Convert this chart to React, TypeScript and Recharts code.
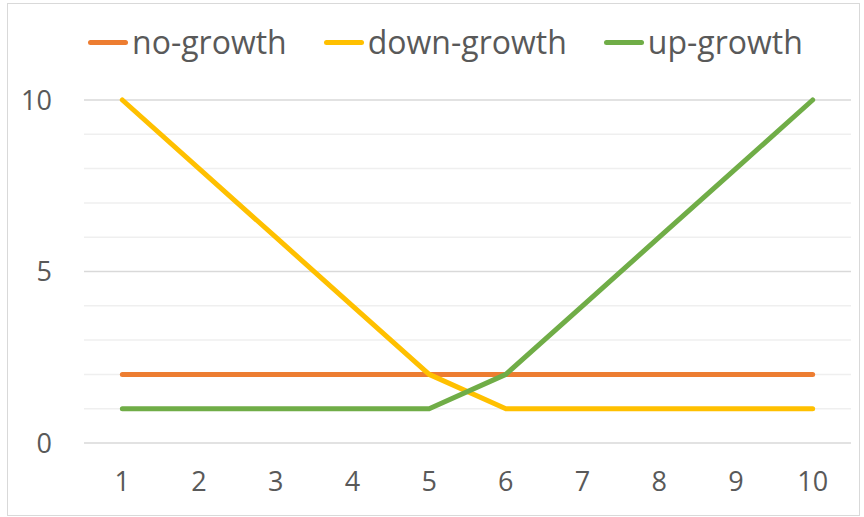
import React from 'react';
import {
  LineChart,
  Line,
  XAxis,
  YAxis,
  CartesianGrid,
  Legend,
  ReferenceLine,
} from 'recharts';

const periods = [1, 2, 3, 4, 5, 6, 7, 8, 9, 10];
const noGrowth = [2, 2, 2, 2, 2, 2, 2, 2, 2, 2];
const downGrowth = [10, 8, 6, 4, 2, 1, 1, 1, 1, 1];
const upGrowth = [1, 1, 1, 1, 1, 2, 4, 6, 8, 10];
const yTicks = [0, 5, 10];
const minorLines = [1, 2, 3, 4, 6, 7, 8, 9];
const seriesOrder = ['no-growth', 'down-growth', 'up-growth'];

const data = periods.map((p, i) => ({
  period: p,
  'no-growth': noGrowth[i],
  'down-growth': downGrowth[i],
  'up-growth': upGrowth[i],
}));

const FONT = '"Open Sans", "Liberation Sans", sans-serif';
const TEXT = '#595959';

const renderLegend = (props: any) => {
  const payload = [...(props.payload || [])].sort(
    (a: any, b: any) => seriesOrder.indexOf(a.value) - seriesOrder.indexOf(b.value)
  );
  return (
    <div style={{ display: 'flex', alignItems: 'center', height: 40, lineHeight: '40px', fontFamily: FONT, fontSize: 32, color: TEXT }}>
      {payload.map((entry: any, i: number) => (
        <div key={`item-${i}`} style={{ display: 'flex', alignItems: 'center', marginRight: 37 }}>
          <span style={{ display: 'inline-block', width: 40, height: 5, borderRadius: 3, background: entry.color, marginRight: 4 }} />
          <span>{entry.value}</span>
        </div>
      ))}
    </div>
  );
};

export default function App() {
  return (
    <div style={{ position: 'absolute', left: 0, top: 0, width: 864, height: 517, background: '#fff' }}>
      <div style={{ position: 'absolute', left: 7, top: 3, width: 851, height: 511, border: '1px solid #d9d9d9' }} />
      <div style={{ position: 'absolute', left: 0, top: 0 }}>
        <LineChart width={864} height={517} data={data} margin={{ top: 60, right: 13, bottom: 24, left: 24 }}>
          <CartesianGrid vertical={false} stroke="#d9d9d9" strokeWidth={1.5} />
          {minorLines.map((v) => (
            <ReferenceLine key={v} y={v} stroke="#efefef" strokeWidth={1.5} ifOverflow="visible" />
          ))}
          <XAxis
            dataKey="period"
            scale="band"
            height={50}
            axisLine={false}
            tickLine={false}
            tickSize={0}
            tickMargin={29}
            tick={{ fill: TEXT, fontSize: 27, fontFamily: FONT }}
          />
          <YAxis
            width={60}
            domain={[0, 10]}
            ticks={yTicks}
            axisLine={false}
            tickLine={false}
            tickSize={0}
            tickMargin={32}
            tick={{ fill: TEXT, fontSize: 27, fontFamily: FONT }}
          />
          <Legend
            content={renderLegend}
            verticalAlign="top"
            wrapperStyle={{ position: 'absolute', top: 22, left: 88, width: 'auto' }}
          />
          <Line dataKey="no-growth" stroke="#ED7D31" strokeWidth={5} strokeLinecap="round" dot={false} isAnimationActive={false} />
          <Line dataKey="down-growth" stroke="#FFC000" strokeWidth={5} strokeLinecap="round" strokeLinejoin="round" dot={false} isAnimationActive={false} />
          <Line dataKey="up-growth" stroke="#70AD47" strokeWidth={5} strokeLinecap="round" strokeLinejoin="round" dot={false} isAnimationActive={false} />
        </LineChart>
      </div>
    </div>
  );
}
